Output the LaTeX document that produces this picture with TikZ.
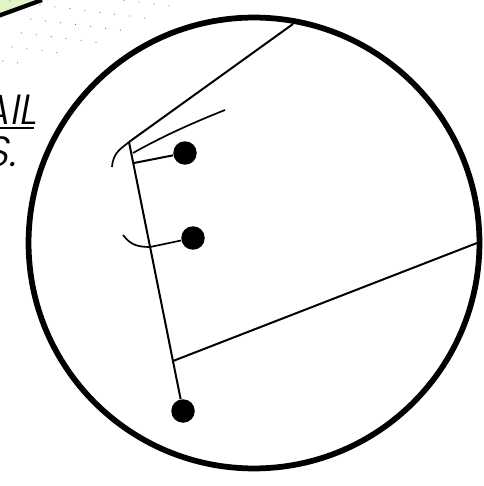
\documentclass[tikz,border=0pt]{standalone}
\usepackage{fontspec}
\usepackage{tikz}
\usetikzlibrary{arrows.meta,positioning,shapes}
\newfontfamily\thinfont[UprightFont=* Light, FakeSlant=0.18]{Poppins}
\definecolor{sheetgreen}{HTML}{DFF5C5}

\begin{document}
\begin{tikzpicture}[x=0.02cm, y=-0.02cm,
        every node/.style={font=\thinfont\fontsize{24}{28}\selectfont},
        rim/.style={draw, circle, line width=0.115cm, inner sep=0pt, minimum size=9.02cm},
        pin/.style={circle, fill=black, inner sep=0pt, minimum size=0.47cm},
        lead/.style={line width=0.04cm},
        wisp/.style={line width=0.034cm},
        speck/.style={fill=black!55}]
        \useasboundingbox (0,0) rectangle (483,486);
        % corner of the sheet behind the lens
        \fill[sheetgreen] (0,0) -- (42,0) -- (0,15) -- cycle;
        \draw[line width=0.085cm] (-2,16) -- (42,0);
        % paper dots
        \foreach \row/\first/\last in {-1/5/8, 0/0/7, 1/0/6, 2/0/5, 3/0/3, 4/0/1}
            \foreach \i in {\first,...,\last}
                \fill[speck] ({40+14.95*\i-9.33*\row},{5+1.85*\i+14*\row}) circle (0.012cm);
        \fill[speck] (10,1) circle (0.012cm);
        % cut off text
        \node[anchor=south east, inner sep=0pt] (word) at (37,125) {AIL};
        \node[anchor=south east, inner sep=0pt] (stop) at (17,167) {S.};
        \coordinate (ulinea) at (0,128);
        \coordinate (ulineb) at (34,128);
        \draw[line width=0.03cm] (ulinea) -- (ulineb);

        \node[rim] (lens) at (254,243) {};
        \node[pin] (pina) at (185,153) {};
        \node[pin] (pinb) at (193,238) {};
        \node[pin] (pinc) at (183,411) {};

        \coordinate (apex) at (129,142);
        \coordinate (foot) at (173,361);
        \coordinate (rimtop) at (293,24);
        \coordinate (rimright) at (477,243);
        \coordinate (forka) at (133,153);
        \coordinate (forkb) at (225,110);
        \coordinate (forkc) at (134,163);
        \coordinate (hooka) at (112,167);
        \coordinate (hookb) at (123,235);

        \draw[lead] (apex) -- (rimtop);
        \draw[lead] (apex) -- (pinc);
        \draw[lead] (foot) -- (rimright);
        \draw[wisp] (forka) .. controls (165,135) and (195,122) .. (forkb);
        \draw[lead] (forkc) -- (pina);
        \draw[wisp] (apex) .. controls (122,148) and (113,152) .. (hooka);
        \draw[wisp] (hookb) .. controls (130,244) and (136,247) .. (150,247) -- (pinb);
    \end{tikzpicture}
\end{document}
